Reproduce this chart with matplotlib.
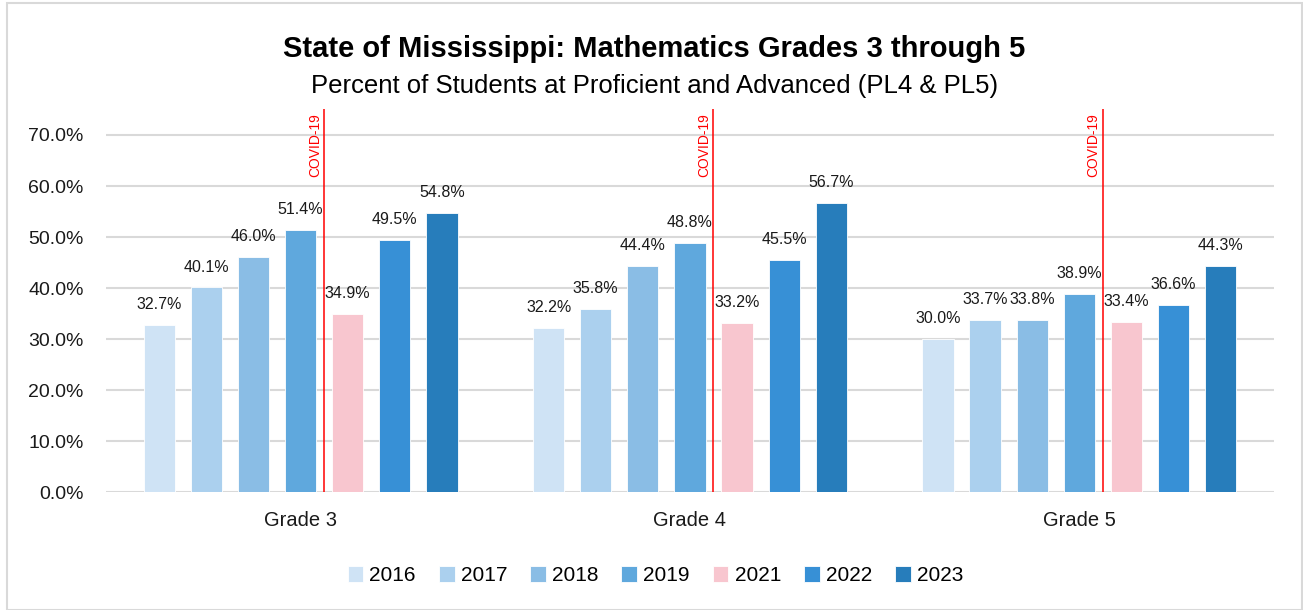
import numpy as np
import matplotlib
matplotlib.use("Agg")
import matplotlib.pyplot as plt
from matplotlib.patches import Rectangle

# data
grades = ["Grade 3", "Grade 4", "Grade 5"]
years = ["2016", "2017", "2018", "2019", "2021", "2022", "2023"]
y2016 = [0.327, 0.322, 0.300]
y2017 = [0.401, 0.358, 0.337]
y2018 = [0.460, 0.444, 0.338]
y2019 = [0.514, 0.488, 0.389]
y2021 = [0.349, 0.332, 0.334]
y2022 = [0.495, 0.455, 0.366]
y2023 = [0.548, 0.567, 0.443]
series = [y2016, y2017, y2018, y2019, y2021, y2022, y2023]
colors = ["#cfe3f5", "#abd0ee", "#8abde5", "#5fa8dd", "#f8c6cf", "#3790d6", "#277dbb"]

plt.rcParams['font.family'] = ['Liberation Sans', 'DejaVu Sans']

fig = plt.figure(figsize=(13.03, 6.10), dpi=100)
ax = fig.add_axes([0.0813, 0.1934, 0.8964, 0.6271])

x = np.arange(len(grades))
step = 0.121
width = 0.08
for j, (yr, vals, c) in enumerate(zip(years, series, colors)):
    pos = x + (j - 3) * step
    bars = ax.bar(pos, vals, width=width, color=c, edgecolor="white",
                  linewidth=0.6, label=yr, zorder=2)
    for b, v in zip(bars, vals):
        ax.annotate(f"{v:.1%}", (b.get_x() + b.get_width() / 2, v),
                    xytext=(0, 11.5), textcoords="offset points",
                    ha="center", va="baseline", fontsize=11.5, color="#1a1a1a")

# covid lines
for i in x:
    xc = i + 0.5 * step
    ax.axvline(xc, color="red", linewidth=1.1, zorder=3)
    ax.text(xc - 0.006, 0.743, "COVID-19", rotation=90, ha="right", va="top",
            color="red", fontsize=10)

ax.set_xlim(-0.5, 2.5)
ax.set_ylim(0, 0.75)
ax.set_yticks(np.arange(0, 0.71, 0.1))
ax.yaxis.set_major_formatter(matplotlib.ticker.FuncFormatter(lambda v, p: f"{v:.1%}"))
ax.set_xticks(x)
ax.set_xticklabels(grades)
ax.tick_params(axis="both", length=0, labelsize=14, colors="#1a1a1a")
ax.tick_params(axis="x", labelsize=14.5, pad=14)
ax.tick_params(axis="y", pad=16)
ax.grid(axis="y", color="#d9d9d9", linewidth=1.5, zorder=0)
ax.set_axisbelow(True)
for s in ax.spines.values():
    s.set_visible(False)

fig.text(0.502, 0.920, "State of Mississippi: Mathematics Grades 3 through 5",
         ha="center", va="center", fontsize=21, fontweight="bold")
fig.text(0.502, 0.859, "Percent of Students at Proficient and Advanced (PL4 & PL5)",
         ha="center", va="center", fontsize=18.5)

fig.legend(loc="center", bbox_to_anchor=(0.503, 0.056), ncol=7, frameon=False,
           fontsize=15, handlelength=0.75, handleheight=0.75, handletextpad=0.3,
           columnspacing=1.1)

# chart border
fig.patches.append(Rectangle((0.0054, 0.0), 0.9935, 0.995, transform=fig.transFigure,
                             fill=False, edgecolor="#d9d9d9", linewidth=1.5))

fig.savefig("out.png", dpi=100)
